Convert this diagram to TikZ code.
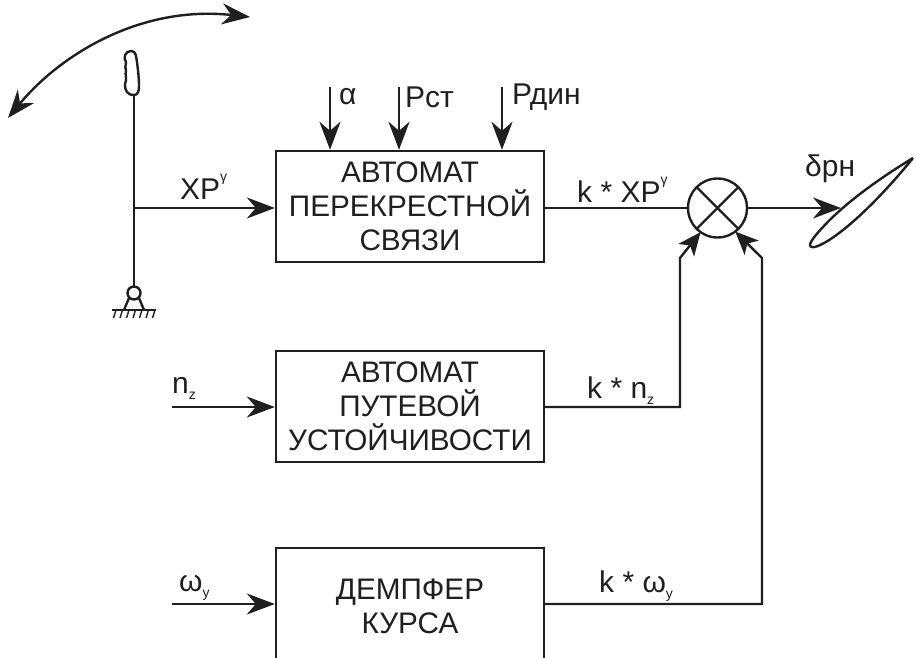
\documentclass[tikz,border=0pt]{standalone}
\usepackage{fontspec}
\setmainfont{Liberation Sans}
\usetikzlibrary{arrows.meta,positioning,calc}
\newcommand{\subtxt}[1]{\raisebox{-.22em}{\fontsize{14}{14}\selectfont #1}}
\newcommand{\suptxt}[1]{\raisebox{.6em}{\fontsize{14}{14}\selectfont #1}}
\tikzset{
  blockbox/.style={draw,line width=2.4pt,minimum width=268pt,inner sep=0pt,align=center,
    font=\fontsize{29.7}{34}\selectfont,execute at begin node={\rule{0pt}{26pt}}},
  flow/.style={line width=2.4pt,-{Stealth[length=28pt,width=21pt,inset=9pt]}},
  shortflow/.style={line width=2.4pt,-{Stealth[length=23pt,width=20pt,inset=6pt]}},
  txt/.style={inner sep=0pt,font=\fontsize{30}{34}\selectfont},
}
\begin{document}
\begin{tikzpicture}[x=1pt,y=-1pt,color={black!88}]
      \useasboundingbox (0,0) rectangle (916,658);
      \clip (0,0) rectangle (916,658);
      \node[blockbox,minimum height=111pt] (cross) at (410,206.5) {АВТОМАТ\\ПЕРЕКРЕСТНОЙ\\СВЯЗИ};
      \node[blockbox,minimum height=111pt] (yaw) at (410,406.5) {АВТОМАТ\\ПУТЕВОЙ\\УСТОЙЧИВОСТИ};
      \node[blockbox,minimum height=116pt] (damper) at (410,606) {ДЕМПФЕР\\КУРСА};
      \node[draw,circle,line width=2.4pt,minimum size=59pt,inner sep=0pt,outer sep=0pt] (sum) at (717.5,208) {};
      \draw[line width=2.4pt] (sum.45) -- (sum.225) (sum.135) -- (sum.315);
      \foreach \x/\n in {330/a,399/st,502/dyn}{
        \coordinate (in\n) at (\x,87);
        \draw[flow] (in\n) -- (in\n |- cross.north);
      }
      \node[txt,anchor=west] (la) at (339,97) {α};
      \node[txt,anchor=west] (lst) at (405,97) {Рст};
      \node[txt,anchor=west] (ldyn) at (512,97) {Рдин};

      \coordinate (stick) at (134,95);
      \coordinate (pivot) at (134,293);
      \coordinate (branch) at (134,208);
      \draw[line width=2.4pt] (stick) -- (pivot);
      \draw[line width=2.4pt,fill=white] (pivot) circle (6.5pt);
      \draw[line width=2.4pt] (129,298) -- (124,310) (139,298) -- (144,310);
      \draw[line width=2.4pt] (112,310) -- (156,310);
      \foreach \i in {0,1,...,6}{
        \draw[line width=1.4pt] (\i*6.5+116,310) -- (\i*6.5+113.5,318);
      }
      \draw[line width=2.4pt,line join=round] (stick)
        .. controls (127,95) and (125,90) .. (125,85)
        .. controls (125,81) and (127,81) .. (126,78)
        .. controls (124,75) and (127,73) .. (126,70)
        .. controls (124,66) and (127,65) .. (126,62)
        .. controls (123,58) and (125,51) .. (131,51)
        .. controls (136,51) and (136,56) .. (137,62)
        .. controls (138,70) and (139,78) .. (139,86)
        .. controls (139,91) and (138,95) .. (134,95);
      \coordinate (swingl) at (8,118);
      \coordinate (swingr) at (250,17);
      \draw[line width=2.4pt,{Stealth[length=28pt,width=21pt,inset=9pt]}-{Stealth[length=28pt,width=21pt,inset=9pt]}]
        (swingl) .. controls (60,55) and (140,5) .. (swingr);

      \draw[flow] (branch) -- (branch -| cross.west);
      \node[txt,anchor=base west] (lxp) at (180,200) {XP\suptxt{γ}};
      \draw[line width=2.4pt] (cross.east |- sum.west) -- (sum.west);
      \node[txt,anchor=base west] (lkxp) at (577,203) {k * XP\suptxt{γ}};

      \coordinate (nzin) at (172,407);
      \draw[flow] (nzin) -- (nzin -| yaw.west);
      \node[txt,anchor=base west] (lnz) at (172,393) {n\subtxt{z}};
      \coordinate (nzup) at (680,258);
      \draw[shortflow] (nzin -| yaw.east) -- (nzup |- nzin) -- (nzup) -- (sum.235);
      \node[txt,anchor=base west] (lknz) at (587,398) {k * n\subtxt{z}};

      \coordinate (wyin) at (172,604);
      \draw[flow] (wyin) -- (wyin -| damper.west);
      \node[txt,anchor=base west] (lwy) at (179,591) {ω\subtxt{y}};
      \coordinate (wyup) at (762,258);
      \draw[shortflow] (wyin -| damper.east) -- (wyup |- wyin) -- (wyup) -- (sum.307);
      \node[txt,anchor=base west] (lkwy) at (599,592) {k * ω\subtxt{y}};

      \coordinate (foil) at (841,208);
      \draw[flow] (sum.east) -- (foil);
      \node[txt,anchor=base west] (ldrn) at (805,176) {δрн};
      \draw[line width=2.4pt,line join=round] (913,158)
        .. controls (880,178) and (845,203) .. (823,227)
        .. controls (808,243) and (807,248) .. (815,247)
        .. controls (835,241) and (875,205) .. (913,158);
    \end{tikzpicture}
\end{document}
